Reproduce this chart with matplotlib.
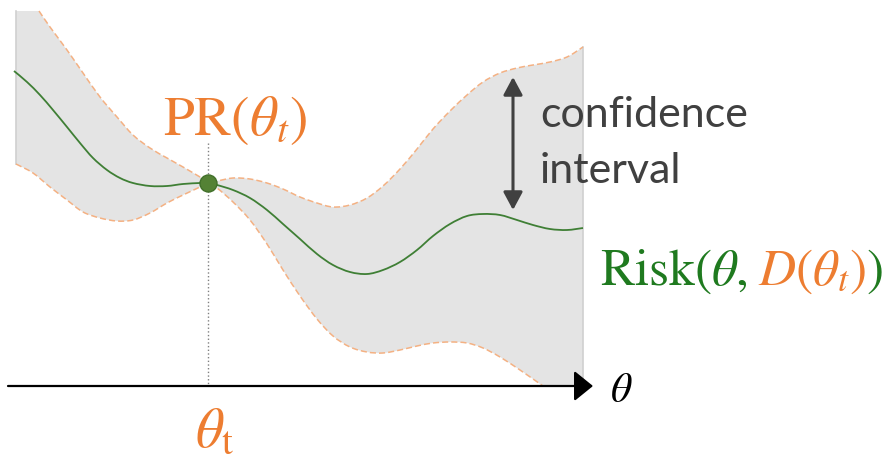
import matplotlib.pyplot as plt
import numpy as np
from matplotlib.patches import PathPatch
from matplotlib.path import Path

plt.rcParams['mathtext.fontset'] = 'stix'

ORANGE = '#ed7d31'
GREEN_TEXT = '#1f7a1f'
GREEN_LINE = '#3f7f35'
DARK = '#404040'

# Band edges and risk curve, in canvas units (x right, y down)
upper_x = [16, 39, 50, 67, 83, 100, 117, 133, 150, 167, 183, 200, 208, 217, 233, 250,
           267, 283, 300, 317, 333, 350, 367, 383, 400, 417, 433, 450, 467, 483, 500,
           517, 533, 550, 567, 583]
upper_y = [11, 11, 27, 50, 73, 97, 117, 135, 148, 158, 167, 177, 182, 181, 178, 179,
           183, 189, 197, 203, 207, 205, 198, 186, 169, 149, 129, 111, 95, 82, 73,
           68, 65, 62, 57, 47]

lower_x = [16, 33, 50, 67, 83, 100, 117, 133, 150, 167, 183, 200, 208, 217, 233, 250,
           267, 283, 300, 317, 333, 350, 367, 383, 400, 417, 433, 450, 467, 483, 500,
           520, 543]
lower_y = [164, 173, 187, 200, 212, 218, 221, 220, 213, 203, 195, 187, 183, 188, 202, 220,
           244, 270, 296, 319, 336, 347, 352, 353, 350, 346, 343, 342, 343, 348, 357,
           370, 386]

risk_x = [14, 27, 40, 53, 67, 80, 93, 107, 120, 133, 150, 167, 183, 200, 208, 217, 233,
          250, 267, 283, 300, 317, 333, 350, 367, 383, 400, 417, 433, 450, 467, 483,
          500, 517, 533, 550, 567, 583]
risk_y = [71, 82, 95, 110, 127, 143, 158, 170, 178, 183, 186, 186, 184, 183, 183, 185, 190,
          198, 210, 224, 239, 254, 265, 272, 274, 270, 262, 250, 236, 224, 216, 214,
          215, 220, 225, 229, 230, 228]

theta_t = (208, 183)
axis_y = 386
axis_x = (8, 593)


def bezier_run(xs, ys):
    """Catmull-Rom run through the points, as cubic bezier vertices (start point excluded)."""
    p = np.column_stack([xs, ys]).astype(float)
    ext = np.vstack([p[0], p, p[-1]])
    verts = []
    for i in range(len(p) - 1):
        p0, p1, p2, p3 = ext[i], ext[i + 1], ext[i + 2], ext[i + 3]
        verts += [p1 + (p2 - p0) / 6, p2 - (p3 - p1) / 6, p2]
    return verts


def split_at(xs, ys, x0):
    """Two runs that share the point at x0 (kink there)."""
    k = xs.index(x0)
    return (xs[:k + 1], ys[:k + 1]), (xs[k:], ys[k:])


def smooth_path(runs, start_code=Path.MOVETO):
    verts = [(runs[0][0][0], runs[0][1][0])]
    codes = [start_code]
    for xs, ys in runs:
        v = bezier_run(xs, ys)
        verts += v
        codes += [Path.CURVE4] * len(v)
    return verts, codes


fig = plt.figure(figsize=(8.93, 4.57), dpi=100)
ax = fig.add_axes([0, 0, 1, 1])
ax.set_xlim(0, 893)
ax.set_ylim(457, 0)
ax.axis('off')

up_a, up_b = split_at(upper_x[1:], upper_y[1:], theta_t[0])
lo_a, lo_b = split_at(lower_x, lower_y, theta_t[0])
rk_a, rk_b = split_at(risk_x, risk_y, theta_t[0])

# confidence band outline: flat top, upper edge, right side, axis, lower edge back
verts = [(upper_x[0], upper_y[0])]
codes = [Path.MOVETO]
v, c = smooth_path([up_a, up_b], Path.LINETO)
verts += v
codes += c
verts += [(upper_x[-1], axis_y), (lower_x[-1], axis_y)]
codes += [Path.LINETO, Path.LINETO]
rev = [(lo_b[0][::-1], lo_b[1][::-1]), (lo_a[0][::-1], lo_a[1][::-1])]
v, c = smooth_path(rev, Path.LINETO)
verts += v[1:]
codes += c[1:]
verts.append(verts[0])
codes.append(Path.CLOSEPOLY)
ax.add_patch(PathPatch(Path(verts, codes), facecolor='#e4e4e4', lw=0, zorder=1))

ax.plot([upper_x[0], lower_x[0]], [upper_y[0], lower_y[0]], color='#d0d0d0', lw=1.2, zorder=2)
ax.plot([upper_x[-1], upper_x[-1]], [upper_y[-1], axis_y], color='#d0d0d0', lw=1.2, zorder=2)
for runs in ([up_a, up_b], [lo_a, lo_b]):
    v, c = smooth_path(runs)
    ax.add_patch(PathPatch(Path(v, c), facecolor='none', edgecolor='#f4b183',
                           lw=1.1, ls=(0, (4, 2)), zorder=2))

# theta_t marker line
ax.plot([theta_t[0], theta_t[0]], [143, axis_y], color='#808080', lw=1, ls=':', zorder=3)

# horizontal axis
ax.annotate('', xy=(axis_x[1], axis_y), xytext=(axis_x[0], axis_y),
            arrowprops=dict(arrowstyle='-|>,head_length=0.58,head_width=0.47',
                            mutation_scale=20, lw=1.6, color='black',
                            shrinkA=0, shrinkB=0), zorder=4)

# risk curve and current point
v, c = smooth_path([rk_a, rk_b])
ax.add_patch(PathPatch(Path(v, c), facecolor='none', edgecolor=GREEN_LINE, lw=1.3, zorder=5))
ax.scatter([theta_t[0]], [theta_t[1]], s=150, color='#548235', edgecolors='#41702a',
           linewidths=1, zorder=6)

# confidence interval arrow
ax.annotate('', xy=(513, 77), xytext=(513, 210),
            arrowprops=dict(arrowstyle='<|-|>,head_length=0.54,head_width=0.29',
                            mutation_scale=20, lw=2.2, color=DARK,
                            shrinkA=0, shrinkB=0), zorder=4)
ax.text(540, 127, 'confidence', family='Lato', fontsize=31, color=DARK, va='baseline')
ax.text(540, 183, 'interval', family='Lato', fontsize=31, color=DARK, va='baseline')

# labels
ax.text(235, 135, r'$\mathrm{PR}(\theta_t)$', fontsize=40, color=ORANGE,
        ha='center', va='baseline')
ax.text(215, 446, r'$\theta_\mathrm{t}$', fontsize=40, color=ORANGE,
        ha='center', va='baseline')
ax.text(621, 402, r'$\theta$', fontsize=30, color='black', ha='center', va='baseline')

# Risk(theta, D(theta_t)) in two colours, pieces laid end to end
pieces = [(r'$\mathrm{Risk}(\theta,$', GREEN_TEXT, 10),
          (r'$D(\theta_t)$', ORANGE, 0),
          (r'$)$', GREEN_TEXT, 0)]
renderer = fig.canvas.get_renderer()
x = 600
for txt, col, gap in pieces:
    t = ax.text(x, 285, txt, fontsize=37, color=col, va='baseline')
    bb = t.get_window_extent(renderer).transformed(ax.transData.inverted())
    x = bb.x1 + gap

fig.savefig('out.png', dpi=100)
